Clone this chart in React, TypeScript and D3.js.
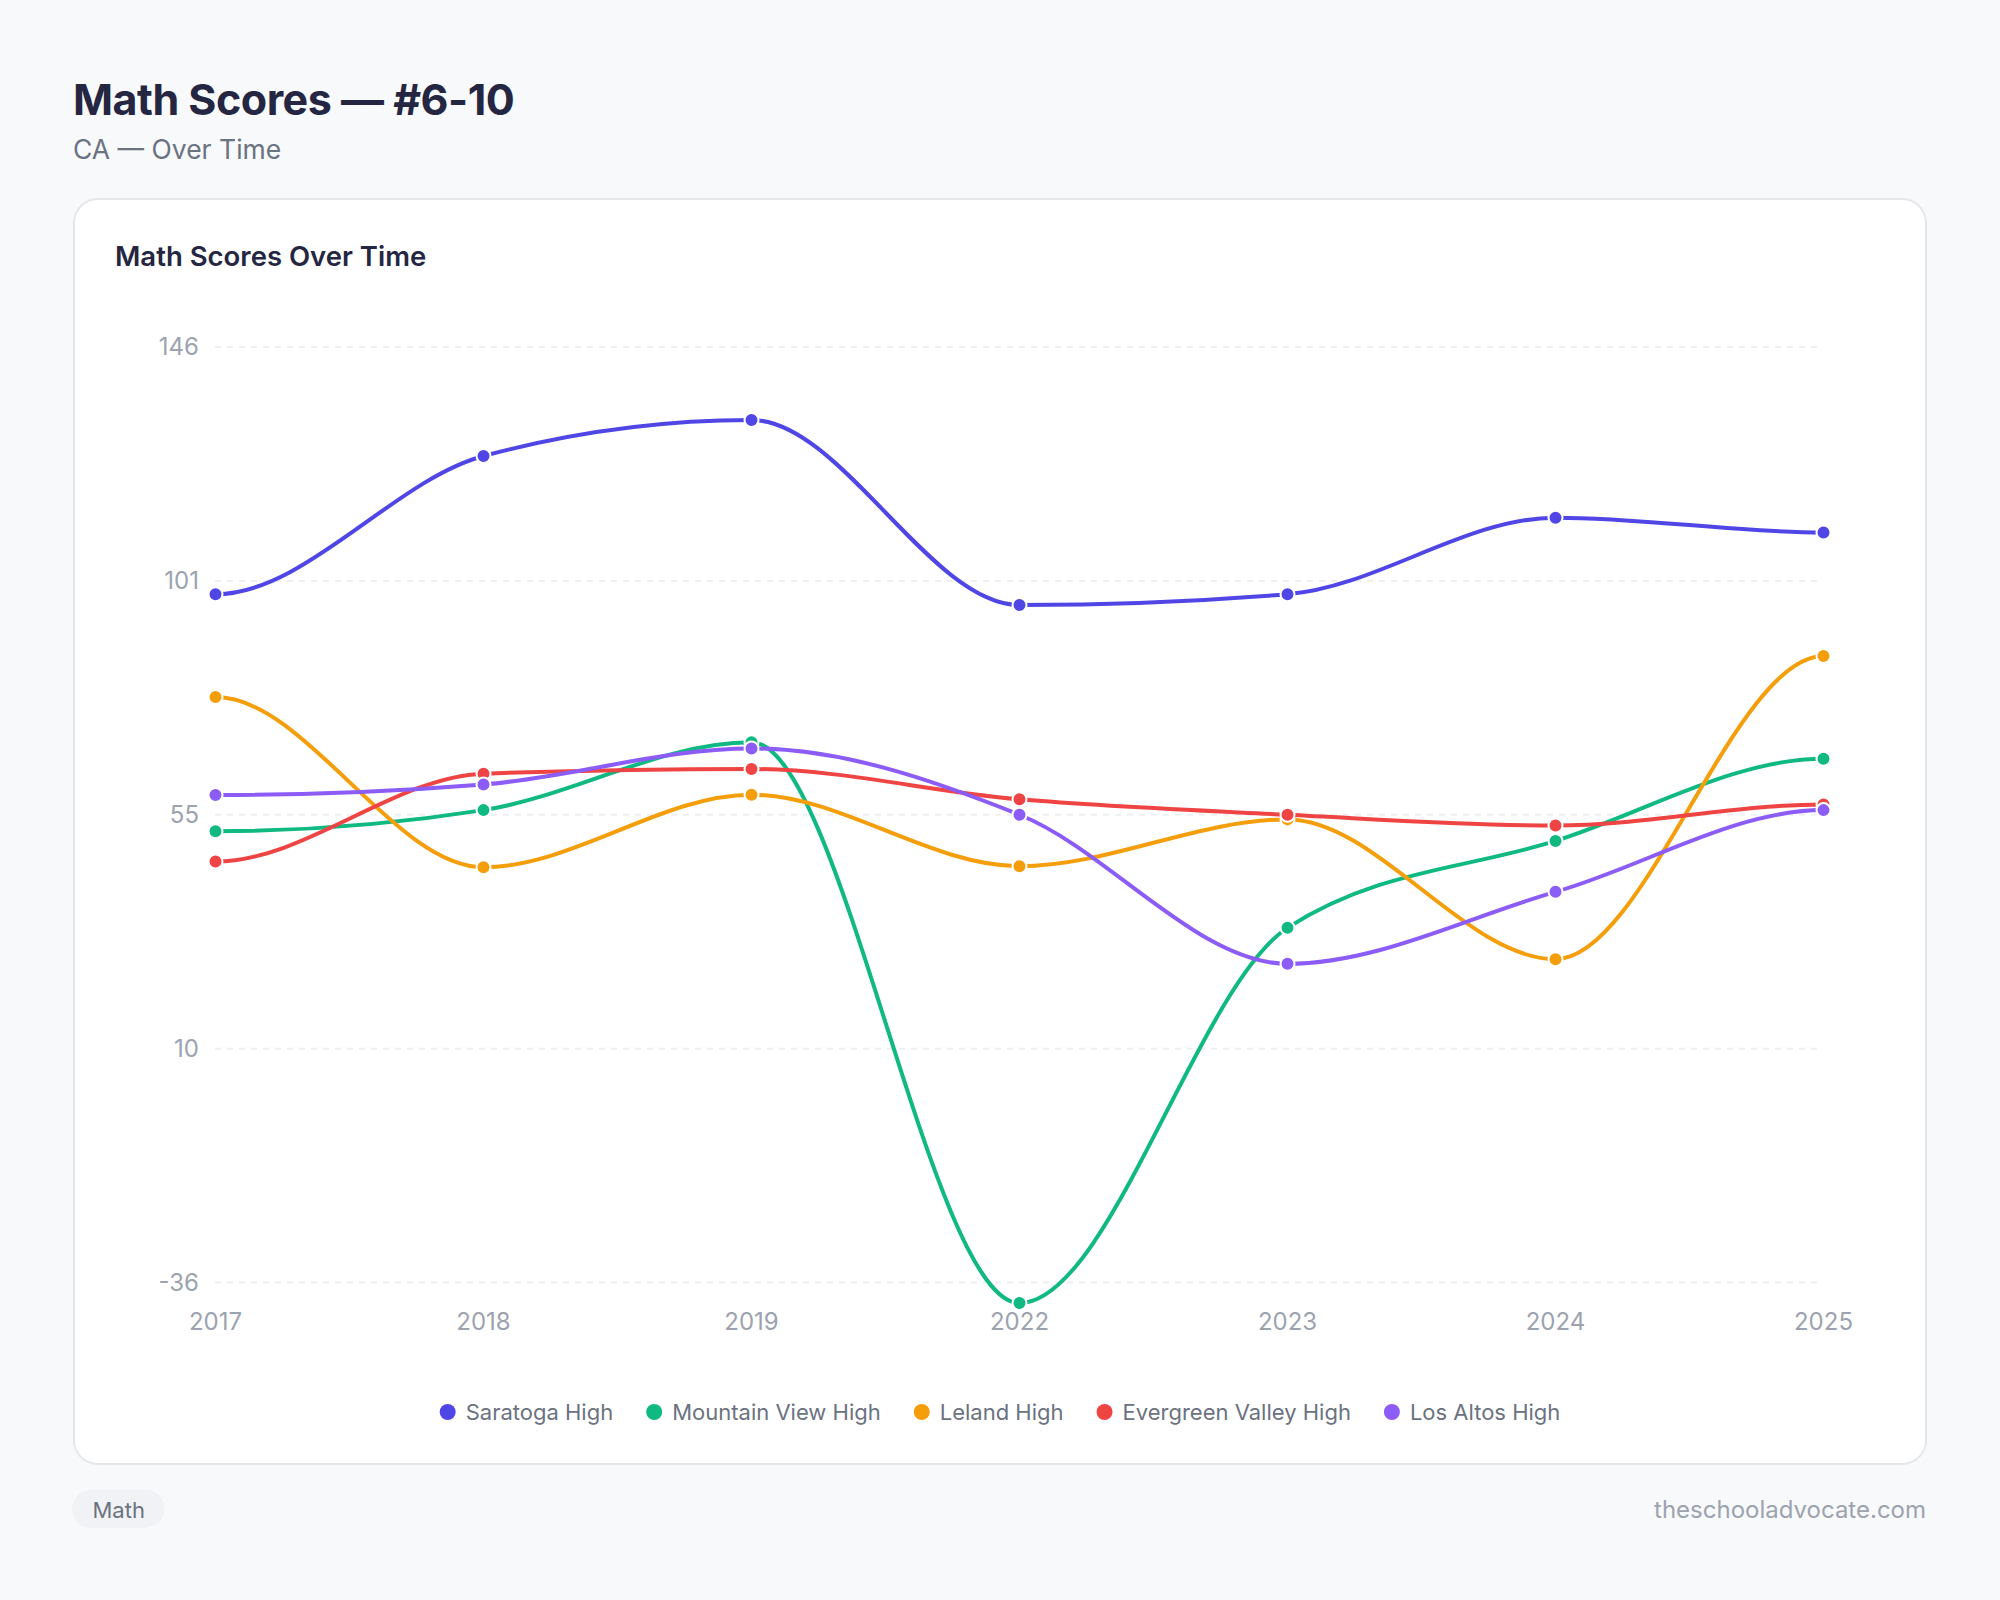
import React, { useEffect, useRef } from "react";
import * as d3 from "d3";

const years = ["2017", "2018", "2019", "2022", "2023", "2024", "2025"];
const seriesNames = ["Saratoga High", "Mountain View High", "Leland High", "Evergreen Valley High", "Los Altos High"];
const seriesColors = ["#4f46e5", "#10b981", "#f59e0b", "#ef4444", "#8b5cf6"];
const saratoga = [97.9, 124.8, 131.8, 95.8, 97.9, 112.8, 109.9];
const mountainView = [51.8, 55.9, 69.1, -40, 33, 49.9, 65.9];
const leland = [77.9, 44.8, 58.9, 45, 54.1, 26.9, 85.9];
const evergreen = [45.9, 63, 63.9, 58, 55, 52.9, 57];
const losAltos = [58.85, 60.9, 67.9, 55, 26, 40, 55.9];
const seriesValues = [saratoga, mountainView, leland, evergreen, losAltos];
const yMin = -36;
const yMax = 146;
const tickCount = 5;

const FONT = "Inter, 'Noto Sans', sans-serif";

// Monotone cubic (Fritsch–Carlson style tangents) with flat tangents at both ends.
function curveMonotoneFlatEnds(context: any) {
  let xs: number[] = [];
  let ys: number[] = [];
  return {
    areaStart() {},
    areaEnd() {},
    lineStart() { xs = []; ys = []; },
    point(x: number, y: number) { xs.push(+x); ys.push(+y); },
    lineEnd() {
      const n = xs.length;
      if (!n) return;
      context.moveTo(xs[0], ys[0]);
      if (n === 1) return;
      const tan: number[] = new Array(n).fill(0);
      for (let i = 1; i < n - 1; i++) {
        const h0 = xs[i] - xs[i - 1];
        const h1 = xs[i + 1] - xs[i];
        const s0 = (ys[i] - ys[i - 1]) / h0;
        const s1 = (ys[i + 1] - ys[i]) / h1;
        const p = (s0 * h1 + s1 * h0) / (h0 + h1);
        tan[i] = (Math.sign(s0) + Math.sign(s1)) * Math.min(Math.abs(s0), Math.abs(s1), 0.5 * Math.abs(p)) || 0;
      }
      for (let i = 0; i < n - 1; i++) {
        const d = (xs[i + 1] - xs[i]) / 3;
        context.bezierCurveTo(xs[i] + d, ys[i] + d * tan[i], xs[i + 1] - d, ys[i + 1] - d * tan[i + 1], xs[i + 1], ys[i + 1]);
      }
    },
  };
}

export default function App() {
  const ref = useRef<SVGSVGElement | null>(null);

  useEffect(() => {
    const svg = d3.select(ref.current);
    svg.selectAll("*").remove();
    const W = 2000, H = 1600;

    svg.append("rect").attr("width", W).attr("height", H).attr("fill", "#f8f9fb");

    svg.append("text").attr("x", 73).attr("y", 115).attr("font-family", FONT)
      .attr("font-size", 43).attr("font-weight", 700).attr("fill", "#252641")
      .attr("letter-spacing", -0.5).text("Math Scores — #6-10");
    svg.append("text").attr("x", 73).attr("y", 159).attr("font-family", FONT)
      .attr("font-size", 26.5).attr("fill", "#6b7280").text("CA — Over Time");

    const card = { x: 74, y: 199, w: 1852, h: 1265 };
    svg.append("rect").attr("x", card.x).attr("y", card.y).attr("width", card.w).attr("height", card.h)
      .attr("rx", 24).attr("fill", "#ffffff").attr("stroke", "#e5e7eb").attr("stroke-width", 2);

    svg.append("text").attr("x", 115).attr("y", 266).attr("font-family", FONT)
      .attr("font-size", 27.5).attr("font-weight", 600).attr("fill", "#252641").text("Math Scores Over Time");

    const x = d3.scalePoint<string>().domain(years).range([215.5, 1823.5]);
    const y = d3.scaleLinear().domain([yMin, yMax]).range([1282.5, 347]);
    const ticks = d3.range(tickCount).map((i) => yMin + (i * (yMax - yMin)) / (tickCount - 1));

    const grid = svg.append("g");
    ticks.forEach((t) => {
      grid.append("line").attr("x1", 215).attr("x2", 1822).attr("y1", y(t)).attr("y2", y(t))
        .attr("stroke", "#eeeff2").attr("stroke-width", 2).attr("stroke-dasharray", "6 6");
      grid.append("text").attr("x", 199).attr("y", y(t)).attr("dy", "0.35em").attr("text-anchor", "end")
        .attr("font-family", FONT).attr("font-size", 24).attr("fill", "#9ca3af").text(String(Math.round(t)));
    });

    years.forEach((yr) => {
      svg.append("text").attr("x", x(yr)!).attr("y", 1330).attr("text-anchor", "middle")
        .attr("font-family", FONT).attr("font-size", 24).attr("fill", "#9ca3af").text(yr);
    });

    const line = d3.line<number>().x((_, i) => x(years[i])!).y((d) => y(d)).curve(curveMonotoneFlatEnds as any);

    seriesValues.forEach((vals, si) => {
      const g = svg.append("g");
      g.append("path").attr("d", line(vals)!).attr("fill", "none").attr("stroke", seriesColors[si])
        .attr("stroke-width", 4).attr("stroke-linejoin", "round").attr("stroke-linecap", "round");
      vals.forEach((v, i) => {
        g.append("circle").attr("cx", x(years[i])!).attr("cy", y(v)).attr("r", 7)
          .attr("fill", seriesColors[si]).attr("stroke", "#ffffff").attr("stroke-width", 2);
      });
    });

    // legend
    const lg = svg.append("g");
    const items = seriesNames.map((name, i) => {
      const it = lg.append("g");
      it.append("circle").attr("cx", 0).attr("cy", 1412).attr("r", 8).attr("fill", seriesColors[i]);
      const t = it.append("text").attr("x", 18).attr("y", 1420).attr("font-family", FONT)
        .attr("font-size", 22).attr("fill", "#6b7280").text(name);
      const w = (t.node() as SVGTextElement).getComputedTextLength();
      return { it, w };
    });
    const gap = 33;
    const widths = items.map((d) => 8 + 18 + d.w);
    const total = d3.sum(widths) + gap * (items.length - 1);
    let cx = card.x + card.w / 2 - total / 2;
    items.forEach((d, i) => {
      d.it.attr("transform", `translate(${cx + 8},0)`);
      cx += widths[i] + gap;
    });

    // footer
    const pill = svg.append("g");
    const pt = pill.append("text").attr("x", 92.5).attr("y", 1518).attr("font-family", FONT)
      .attr("font-size", 22).attr("fill", "#6b7280").text("Math");
    const pw = (pt.node() as SVGTextElement).getComputedTextLength();
    pill.insert("rect", "text").attr("x", 72).attr("y", 1490).attr("width", pw + 40).attr("height", 38)
      .attr("rx", 19).attr("fill", "#f1f2f5");

    svg.append("text").attr("x", 1926).attr("y", 1518).attr("text-anchor", "end").attr("font-family", FONT)
      .attr("font-size", 24).attr("fill", "#9ca3af").text("theschooladvocate.com");
  }, []);

  return (
    <svg ref={ref} width={2000} height={1600} style={{ position: "absolute", left: 0, top: 0 }} />
  );
}
